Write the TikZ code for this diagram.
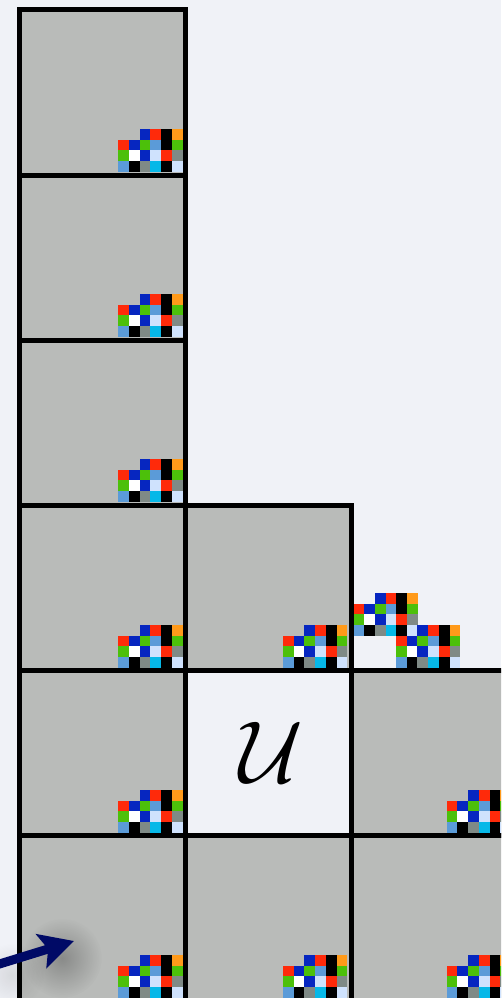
\documentclass[tikz,border=0pt]{standalone}
\usepackage{xcolor}
\usepackage{amsmath}
\usetikzlibrary{arrows.meta, fadings}

\definecolor{pagebg}{HTML}{F0F2F7}
\definecolor{cellgray}{HTML}{B9BBB9}
\definecolor{pixred}{HTML}{FF2A0A}
\definecolor{pixblue}{HTML}{0626C0}
\definecolor{pixorange}{HTML}{FF9A1A}
\definecolor{pixgreen}{HTML}{4CC00A}
\definecolor{pixsky}{HTML}{5B9BD8}
\definecolor{pixpale}{HTML}{CFE2FD}
\definecolor{pixgray}{HTML}{7F8A86}
\definecolor{pixcyan}{HTML}{06B8E8}
\definecolor{arrownavy}{HTML}{000A66}

\tikzfading[name=fuzzyspot, inner color=transparent!0, outer color=transparent!100]

% One block of coloured pixels, #1/#2 = its top left corner
\newcommand{\pixblock}[2]{
    \foreach \col/\row/\hue in {
        2/0/pixblue, 3/0/pixred, 4/0/black, 5/0/pixorange,
        0/1/pixred, 1/1/pixblue, 2/1/pixgreen, 3/1/pixsky, 4/1/black, 5/1/pixgreen,
        0/2/pixgreen, 1/2/white, 2/2/pixblue, 3/2/pixpale, 4/2/pixred, 5/2/pixgray,
        0/3/pixsky, 1/3/black, 2/3/pixgray, 3/3/pixcyan, 4/3/black, 5/3/pixpale} {
        \fill[\hue] ({#1+\col*10.7}, {#2+\row*10.7}) rectangle +(10.75, 10.75);
    }
}

\begin{document}
\begin{tikzpicture}[
    x=1pt, y=-1pt,
    >={Stealth[length=34pt, width=35pt, inset=7pt]},
    cellbox/.style={draw=black, line width=5pt, fill=cellgray},
    holebox/.style={draw=black, line width=5pt, fill=pagebg},
]
\useasboundingbox (0, 0) rectangle (501, 998);
\clip (0, 0) rectangle (501, 998);

% Background
\fill[pagebg] (0, 0) rectangle (501, 998);

% Grey cells, left column first
\foreach \top in {10, 175, 340, 505, 670, 835} {
    \filldraw[cellbox] (19, \top) rectangle +(166, 165);
}
\filldraw[cellbox] (185, 505) rectangle (351, 670);
\filldraw[cellbox] (185, 835) rectangle (351, 1010);
\filldraw[cellbox] (351, 670) rectangle (520, 835);
\filldraw[cellbox] (351, 835) rectangle (520, 1010);

% The one empty cell
\filldraw[holebox] (185, 670) rectangle (351, 835);
\node[scale=8.8, inner sep=0pt] (hole) at (271, 752) {$\mathcal{U}$};

% Pixel blocks in the cells
\foreach \ytop in {129, 294, 459, 625, 790, 955} {
    \pixblock{118.3}{\ytop}
}
\pixblock{283}{625}
\pixblock{283}{955}
\pixblock{446.7}{790}
\pixblock{446.7}{955}

% The two blocks lying on the grey cell and on the hole
\pixblock{353.5}{593}
\pixblock{396}{625}

% Soft shadow under the arrow
\fill[black, opacity=0.26, path fading=fuzzyspot] (62, 958) circle (40);
\fill[black, opacity=0.10, path fading=fuzzyspot] (12, 975) circle (32);

% Arrow coming in from the left edge
\coordinate (arrowstart) at (-20, 970);
\coordinate (arrowend) at (74, 941);
\draw[->, arrownavy, line width=9pt] (arrowstart) -- (arrowend);

\end{tikzpicture}
\end{document}
